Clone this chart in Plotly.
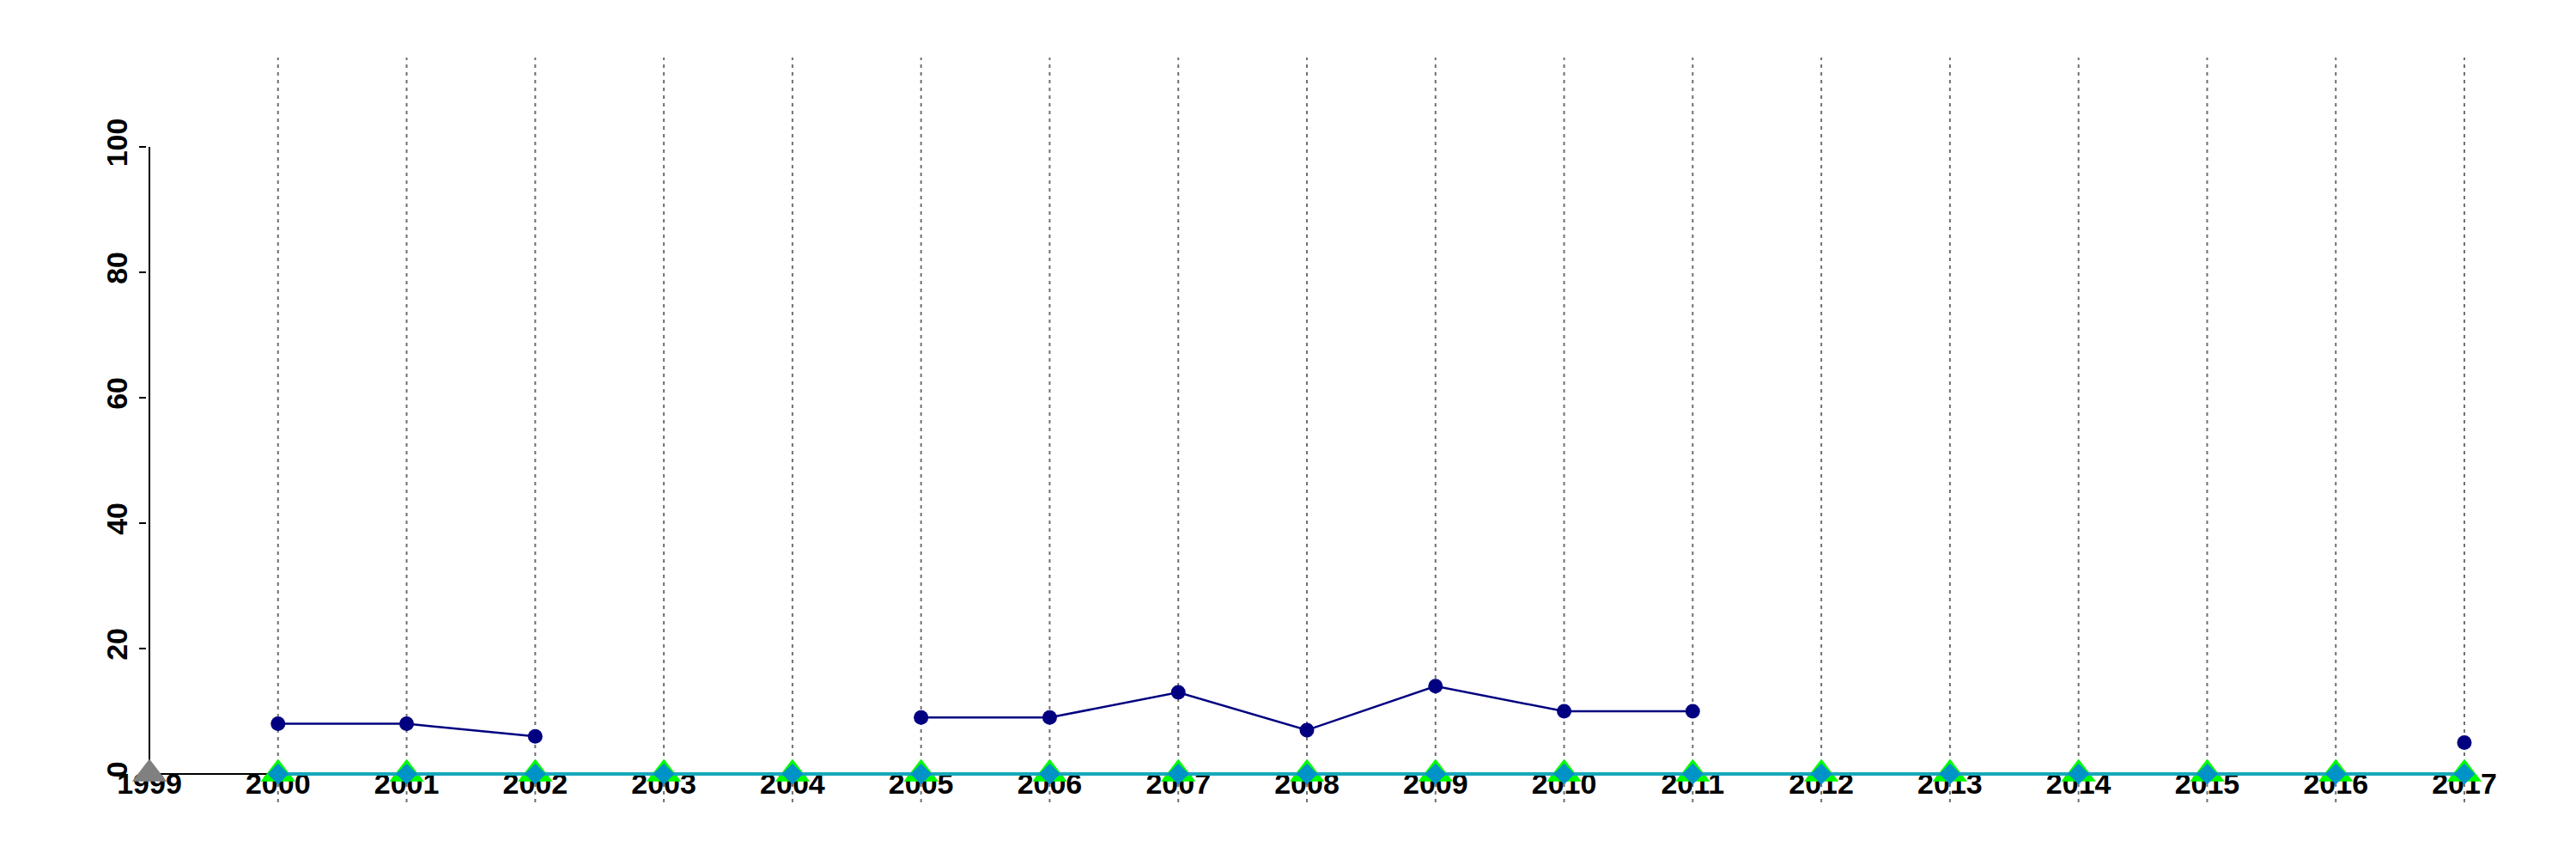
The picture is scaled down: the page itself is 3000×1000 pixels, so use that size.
import plotly.graph_objects as go

years = list(range(1999, 2018))
navy_vals = [None, 8, 8, 6, None, None, 9, 9, 13, 7, 14, 10, 10, None, None, None, None, None, 5]
gray_vals = [0] + [None] * 18
green_vals = [None] + [0] * 18
blue_vals = [None] + [0] * 18
grid_years = years[1:]
y_ticks = [0, 20, 40, 60, 80, 100]

fig = go.Figure()

fig.add_trace(go.Scatter(x=years, y=gray_vals, mode="markers",
                         marker=dict(symbol="triangle-up", size=35, color="#808080",
                                     line=dict(width=0)),
                         cliponaxis=False, showlegend=False))
fig.add_trace(go.Scatter(x=years, y=navy_vals, mode="lines+markers",
                         line=dict(color="#000080", width=2.5),
                         marker=dict(symbol="circle", size=17, color="#000080"),
                         connectgaps=False, cliponaxis=False, showlegend=False))
fig.add_trace(go.Scatter(x=years, y=green_vals, mode="markers",
                         marker=dict(symbol="triangle-up", size=35, color="#00FF00",
                                     line=dict(width=0)),
                         cliponaxis=False, showlegend=False))
fig.add_trace(go.Scatter(x=years, y=blue_vals, mode="lines+markers",
                         line=dict(color="#16A8BC", width=4),
                         marker=dict(symbol="diamond", size=19, color="#0093C8"),
                         cliponaxis=False, showlegend=False))

# dotted vertical guide lines at each year after the first
for yr in grid_years:
    fig.add_vline(x=yr, y0=0, y1=1, layer="below",
                  line=dict(color="#707070", width=2, dash="4px,5px"))

# y axis line spanning only the labelled range (like R's axis())
fig.add_shape(type="line", xref="x", yref="y", x0=years[0], x1=years[0],
              y0=y_ticks[0], y1=y_ticks[-1], layer="below",
              line=dict(color="black", width=2))

tick_font = dict(family="Liberation Sans, Arial, sans-serif", size=34, color="black", weight="bold")

fig.update_layout(
    width=3000, height=1000,
    margin=dict(l=163, r=135, t=59, b=74),
    paper_bgcolor="white", plot_bgcolor="white",
    xaxis=dict(range=[1998.98, 2017.02], tickmode="array", tickvals=years,
               ticktext=[str(y) for y in years], showgrid=False, zeroline=False,
               showline=False, ticks="",
               tickfont=tick_font, layer="below traces", ticklabelstandoff=-45),
    yaxis=dict(range=[-4.52, 114.25], tickmode="array", tickvals=y_ticks,
               ticktext=[str(v) for v in y_ticks], showgrid=False,
               zeroline=True, zerolinecolor="black", zerolinewidth=2,
               showline=False, ticks="outside",
               ticklen=8, tickwidth=2, tickcolor="black", tickangle=-90,
               tickfont=tick_font, layer="below traces"),
)

fig.write_html("out.html")
